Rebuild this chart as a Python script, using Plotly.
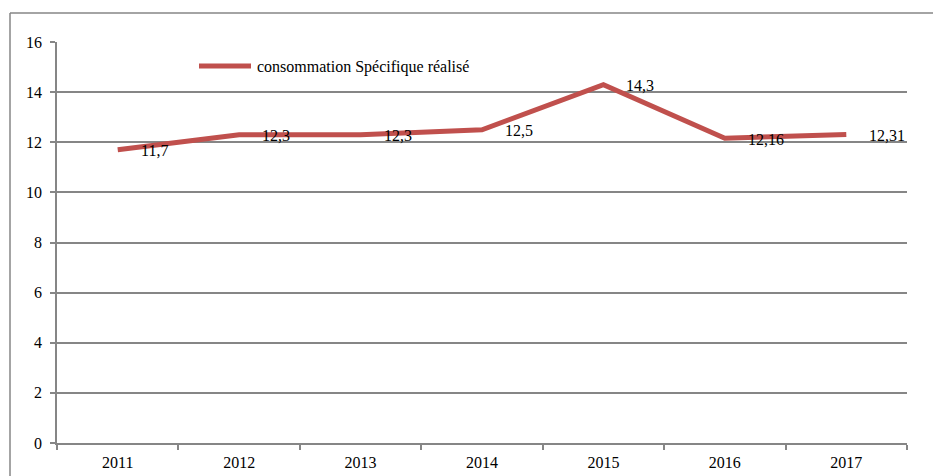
import plotly.graph_objects as go

years = ["2011", "2012", "2013", "2014", "2015", "2016", "2017"]
values = [11.7, 12.3, 12.3, 12.5, 14.3, 12.16, 12.31]
labels = ["11,7", "12,3", "12,3", "12,5", "14,3", "12,16", "12,31"]
series_name = "consommation Spécifique réalisé"

FONT = "Liberation Serif"
GRID = "#868686"
RED = "#C0504D"
FS = 16

W, H = 933, 476
L, T = 57, 42
R = W - 907
B = H - 443
pw, ph = W - L - R, H - T - B

def px(sx):
    return (sx - L) / pw

def py(sy):
    return 1 - (sy - T) / ph

fig = go.Figure()
fig.add_trace(go.Scatter(
    x=years, y=values, mode="lines", name=series_name,
    line=dict(color=RED, width=5), showlegend=False, hoverinfo="skip"))

for i, (y, t) in enumerate(zip(values, labels)):
    fig.add_annotation(x=i, y=y, text=t, showarrow=False, xanchor="left",
                       yanchor="middle", xshift=21, yshift=-1,
                       font=dict(family=FONT, size=FS, color="black"))

# legend (drawn manually for a longer line sample)
fig.add_shape(type="line", xref="paper", yref="paper",
              x0=px(199), x1=px(251), y0=py(66), y1=py(66),
              line=dict(color=RED, width=5))
fig.add_annotation(xref="paper", yref="paper", x=px(255), y=py(67),
                   text=series_name, showarrow=False, xanchor="left",
                   yanchor="middle", font=dict(family=FONT, size=FS, color="black"))

# outer chart frame (top and left edges visible in the crop)
fig.add_shape(type="line", xref="paper", yref="paper",
              x0=px(10), x1=px(960), y0=py(13), y1=py(13),
              line=dict(color=GRID, width=1.5), layer="below")
fig.add_shape(type="line", xref="paper", yref="paper",
              x0=px(10), x1=px(10), y0=py(13), y1=py(500),
              line=dict(color=GRID, width=1.5), layer="below")

fig.update_layout(
    width=W, height=H, margin=dict(l=L, r=R, t=T, b=B, autoexpand=False),
    paper_bgcolor="white", plot_bgcolor="white",
    font=dict(family=FONT, size=FS, color="black"),
    showlegend=False,
    xaxis=dict(type="category", tickson="boundaries", ticks="outside", ticklen=5,
               tickcolor=GRID, tickwidth=1.5, showgrid=False, showline=True,
               linecolor=GRID, linewidth=1.5, range=[-0.5, 6.5],
               ticklabelstandoff=4,
               tickfont=dict(family=FONT, size=FS), zeroline=False),
    yaxis=dict(range=[0, 16], dtick=2, tick0=0, ticks="outside", ticklen=5,
               tickcolor=GRID, tickwidth=1.5, showgrid=True, gridcolor=GRID,
               gridwidth=1.5, showline=True, linecolor=GRID, linewidth=1.5,
               ticklabelstandoff=5,
               zeroline=False, tickfont=dict(family=FONT, size=FS)),
)

fig.write_html("out.html", config={"displayModeBar": False},
               post_script="document.body.style.margin='0';"
                           "document.body.style.overflow='hidden';")
